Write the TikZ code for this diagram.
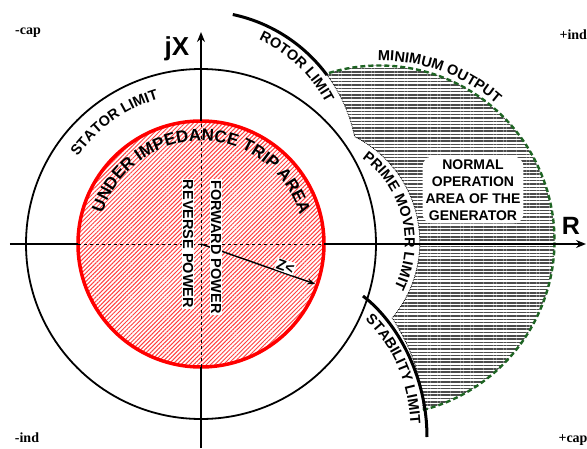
\documentclass[tikz,border=0pt]{standalone}
\usepackage{fontspec}
\setmainfont{Liberation Serif}
\setsansfont{Liberation Sans}
\usetikzlibrary{arrows.meta,patterns.meta,decorations.text}

\definecolor{limitgreen}{RGB}{30,100,35}
\newcommand{\arcfont}{\sffamily\bfseries\fontsize{14.5}{16}\selectfont}
\newcommand{\bigarcfont}{\sffamily\bfseries\fontsize{17}{19}\selectfont}

\begin{document}
\begin{tikzpicture}[x=1pt,y=1pt,
  axis/.style={line width=1.6pt},
  thickarc/.style={line width=3pt},
  arclabel/.style={decorate, decoration={text along path, text align=center, text={#1}}},
  powerlabel/.style={rotate=-90, fill=white, inner sep=1pt, font=\arcfont},
  corner/.style={font=\bfseries\fontsize{14}{16}\selectfont}
]
\useasboundingbox (-201,-204) rectangle (386,244);

\coordinate (O) at (0,0);
\coordinate (xl) at (-191,0);
\coordinate (xr) at (385,0);
\coordinate (yb) at (0,-204);
\coordinate (yt) at (0,212);
\coordinate (rl) at (-123,0);
\coordinate (rr) at (123,0);
\coordinate (rb) at (0,-123);
\coordinate (rt) at (0,123);
\coordinate (zend) at (-19.3:121);

% normal operation area
\fill[pattern={Lines[angle=0,distance=3.3pt,line width=1.5pt]}, pattern color=black!70]
  (126,169) arc[start angle=36.5, end angle=11.8, radius=158]
  arc[start angle=63.4, end angle=-40, radius=118]
  .. controls (207,-98) and (222,-132) .. (222,-166)
  arc[start angle=-75.6, end angle=107.6, radius=175] -- cycle;
\draw[densely dotted, line width=0.8pt]
  (126,169) arc[start angle=36.5, end angle=11.8, radius=158]
  arc[start angle=63.4, end angle=-40, radius=118]
  .. controls (207,-98) and (222,-132) .. (222,-166);
\draw[limitgreen, dash pattern=on 5pt off 3pt, line width=2.4pt] (222,-166) arc[start angle=-75.6, end angle=107.6, radius=175];

% under impedance circle
\fill[pattern={Lines[angle=45,distance=3pt,line width=1pt]}, pattern color=red!75] (O) circle[radius=123];
\draw[red, line width=3.5pt] (O) circle[radius=123];

% stator limit
\draw[line width=1.8pt] (O) circle[radius=175];

% axes
\draw[axis] (xl) -- (rl);
\draw[axis, -{Stealth[length=10pt,width=8pt]}] (rr) -- (xr);
\draw[axis] (yb) -- (rb);
\draw[axis, -{Stealth[length=10pt,width=8pt]}] (rt) -- (yt);
\draw[dashed, line width=0.9pt] (rl) -- (rr);
\draw[dashed, line width=0.9pt] (rb) -- (rt);

% rotor and stability limits
\draw[thickarc] (31.8,229.5) arc[start angle=78, end angle=36.5, radius=158];
\draw[thickarc] (162,-52) .. controls (196,-78) and (226,-132) .. (226,-193);

\draw[line width=1.4pt, -{Stealth[length=8pt,width=6pt]}] (O) -- (zend)
  node[pos=0.72, sloped, above, fill=white, inner sep=1pt, font=\sffamily\bfseries\fontsize{15}{17}\selectfont] (zlabel) {Z<};

% labels on the limits
\path[arclabel={|\arcfont|STATOR LIMIT}] (170:151) arc[start angle=170, end angle=81, radius=151];
\path[arclabel={|\bigarcfont|UNDER IMPEDANCE TRIP AREA}] (190:103) arc[start angle=190, end angle=-11, radius=103];
\path[shift={(-1,75)}, arclabel={|\arcfont|ROTOR LIMIT}] (88:142) arc[start angle=88, end angle=5, radius=142];
\path[shift={(178.5,3.5)}, arclabel={|\arcfont|MINIMUM OUTPUT}] (120:180) arc[start angle=120, end angle=20, radius=180];
\path[shift={(100.9,1.8)}, arclabel={|\arcfont|PRIME MOVER LIMIT}] (70:103) arc[start angle=70, end angle=-42, radius=103];
\path[arclabel={|\arcfont|STABILITY LIMIT}] (152,-65) .. controls (186,-91) and (211,-134) .. (210,-196);

\node[powerlabel] (fwd) at (15,-3) {FORWARD POWER};
\node[powerlabel] (rev) at (-13,0) {REVERSE POWER};

\node[fill=white, rounded corners=10pt, inner sep=3pt, align=center,
  font=\sffamily\bfseries\fontsize{14}{17}\selectfont] (normal) at (272,54)
  {NORMAL\\OPERATION\\AREA OF THE\\GENERATOR};

\node[font=\sffamily\bfseries\fontsize{26}{28}\selectfont] (jx) at (-24,195) {jX};
\node[font=\sffamily\bfseries\fontsize{25}{27}\selectfont] (rlabel) at (370,18) {R};

\node[corner] (mcap) at (-173,211) {-cap};
\node[corner, anchor=west] (pind) at (355,209) {+ind};
\node[corner] (mind) at (-174,-194) {-ind};
\node[corner, anchor=west] (pcap) at (354,-196) {+cap};
\end{tikzpicture}
\end{document}
